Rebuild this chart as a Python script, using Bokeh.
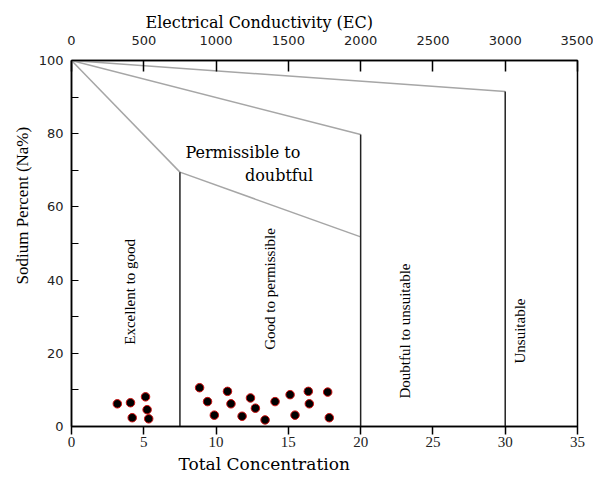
import math
from bokeh.plotting import figure
from bokeh.models import LinearAxis, Range1d, FixedTicker, Label, ColumnDataSource, Title
from bokeh.core.properties import value
from bokeh.embed import file_html
from bokeh.resources import INLINE

# ---- data ----
tc_ticks = [0, 5, 10, 15, 20, 25, 30, 35]
ec_ticks = [0, 500, 1000, 1500, 2000, 2500, 3000, 3500]
na_ticks = [0, 20, 40, 60, 80, 100]
na_minor = [10, 30, 50, 70, 90]

# sample points (Total Concentration, Sodium Percent)
sample_tc = [3.17, 4.08, 5.12, 4.20, 5.23, 5.34, 8.86, 9.41, 9.88, 10.79, 11.03,
             11.80, 12.38, 12.72, 13.39, 14.08, 15.12, 15.46, 16.38, 16.45, 17.72, 17.83]
sample_na = [6.2, 6.5, 8.1, 2.4, 4.6, 2.1, 10.6, 6.8, 3.1, 9.6, 6.2,
             2.8, 7.8, 5.0, 1.8, 6.8, 8.7, 3.1, 9.6, 6.2, 9.4, 2.4]

# zone boundaries
vert_x = [7.5, 20, 30]
vert_top = [69.5, 79.8, 91.5]
diag_x0 = [0, 0, 0, 7.5]
diag_y0 = [100, 100, 100, 69.5]
diag_x1 = [7.5, 20, 30, 20]
diag_y1 = [69.5, 79.8, 91.5, 51.8]

zone_labels = ["Excellent to good", "Good to permissible", "Doubtful to unsuitable", "Unsuitable"]
zone_x = [4.08, 13.7, 23.05, 31.0]
zone_y = [36.8, 37.6, 26.1, 26.1]

SERIF = "Liberation Serif"
WSERIF = "DejaVu Serif"
SANS = "DejaVu Sans"

p = figure(width=593, height=476, x_range=Range1d(0, 35), y_range=Range1d(0, 100),
           output_backend="svg", toolbar_location=None,
           min_border_left=71, min_border_right=16, min_border_top=60, min_border_bottom=50)
p.grid.visible = False
p.outline_line_color = "black"
p.outline_line_width = 1.5
p.background_fill_color = "white"
p.border_fill_color = "white"

# bottom axis
xa = p.xaxis[0]
xa.ticker = FixedTicker(ticks=tc_ticks)
xa.major_tick_in = 0
xa.major_tick_out = 8
xa.minor_tick_in = 0
xa.minor_tick_out = 0
xa.axis_line_width = 1.5
xa.major_tick_line_width = 1.5
xa.major_label_text_font = SERIF
xa.major_label_text_font_size = "15px"
xa.major_label_text_color = "#222222"
xa.major_label_standoff = 2

# left axis
ya = p.yaxis[0]
ya.ticker = FixedTicker(ticks=na_ticks, minor_ticks=na_minor)
ya.major_tick_in = 7
ya.major_tick_out = 0
ya.minor_tick_in = 7
ya.minor_tick_out = 0
ya.axis_line_width = 1.5
ya.major_tick_line_width = 1.2
ya.minor_tick_line_width = 1.2
ya.major_label_text_font = SANS
ya.major_label_text_font_size = "13px"
ya.major_label_text_color = "#222222"
ya.major_label_standoff = 8

# top axis (EC)
p.extra_x_ranges = {"ec": Range1d(0, 3500)}
ta = LinearAxis(x_range_name="ec", ticker=FixedTicker(ticks=ec_ticks))
ta.major_tick_in = 11
ta.major_tick_out = 0
ta.minor_tick_in = 0
ta.minor_tick_out = 0
ta.axis_line_width = 1.5
ta.major_tick_line_width = 1.5
ta.major_label_text_font = SANS
ta.major_label_text_font_size = "13px"
ta.major_label_text_color = "#222222"
ta.major_label_standoff = 16
p.add_layout(ta, "above")

# zone lines
p.segment(x0=diag_x0, y0=diag_y0, x1=diag_x1, y1=diag_y1, line_color="#a6a6a6", line_width=1.5)
p.segment(x0=vert_x, y0=[0] * len(vert_x), x1=vert_x, y1=vert_top, line_color="#222222", line_width=1.5)

# samples
p.scatter(x=sample_tc, y=sample_na, size=8.5, fill_color="black", line_color="#d01010", line_width=1.0)

# zone labels
src = ColumnDataSource(dict(x=zone_x, y=zone_y, t=zone_labels))
p.text(x="x", y="y", text="t", source=src, angle=math.pi / 2, text_align="center",
       text_baseline="middle", text_font=value(SERIF), text_font_size="15px", text_color="black")

p.add_layout(Label(x=7.88, y=74.8, text="Permissible to", text_font=WSERIF, text_font_size="16px",
                   text_baseline="middle", text_color="black"))
p.add_layout(Label(x=12.0, y=68.5, text="doubtful", text_font=WSERIF, text_font_size="16px",
                   text_baseline="middle", text_color="black"))

# axis titles
p.add_layout(Title(text="Total Concentration", align="left", offset=107, standoff=4,
                   text_font=WSERIF, text_font_size="17px", text_font_style="normal",
                   text_color="black"), "below")
p.add_layout(Title(text="Electrical Conductivity (EC)", align="left", offset=74, standoff=2,
                   text_font=WSERIF, text_font_size="16px", text_font_style="normal",
                   text_color="black"), "above")
p.add_layout(Title(text="Sodium Percent (Na%)", align="left", offset=142, standoff=8,
                   text_font=SERIF, text_font_size="17px", text_font_style="normal",
                   text_color="black"), "left")

open("out.html", "w").write(file_html(p, INLINE))
